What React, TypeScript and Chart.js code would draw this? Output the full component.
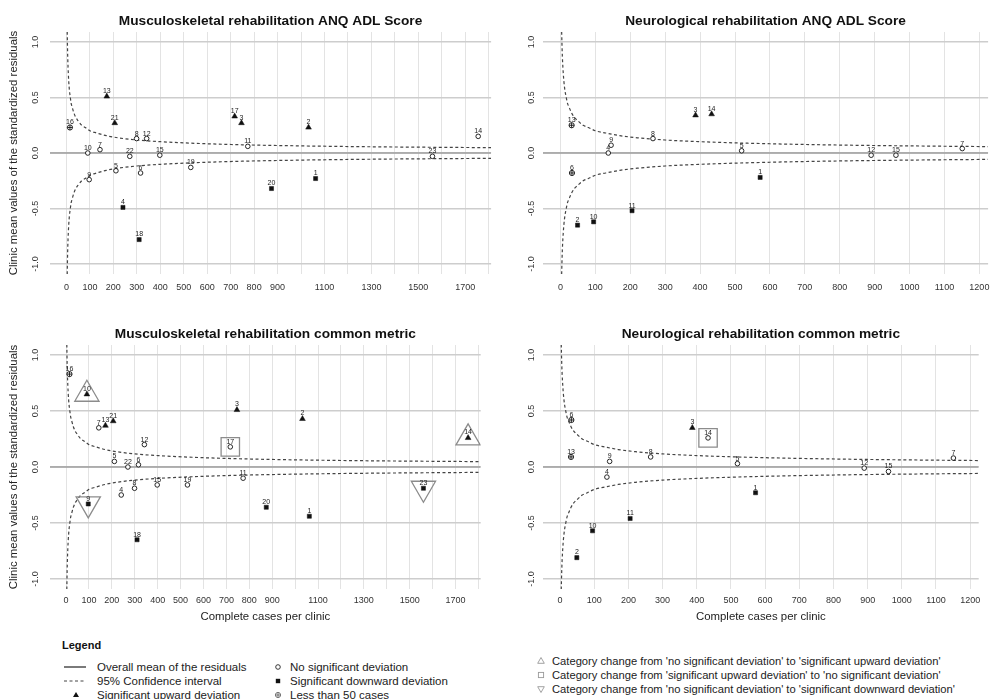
import React, { useEffect, useRef } from 'react';
import { Chart, registerables } from 'chart.js';

Chart.register(...registerables);

const FONT = '"Liberation Sans", Arial, Helvetica, sans-serif';

// ---------- data ----------
// 95% confidence band (half width) against complete cases per clinic
const ciCases = [2, 3, 4, 5, 6, 8, 10, 13, 16, 20, 25, 32, 40, 50, 65, 80, 100, 130, 170, 220, 300, 400, 550, 750, 1000, 1300, 1600, 1900];
const ciUpper = [1.44, 1.17, 1.02, 0.91, 0.83, 0.72, 0.64, 0.56, 0.51, 0.45, 0.41, 0.36, 0.32, 0.29, 0.25, 0.23, 0.2, 0.18, 0.156, 0.137, 0.117, 0.102, 0.087, 0.074, 0.064, 0.056, 0.051, 0.047];
const ciLower = [-1.44, -1.17, -1.02, -0.91, -0.83, -0.72, -0.64, -0.56, -0.51, -0.45, -0.41, -0.36, -0.32, -0.29, -0.25, -0.23, -0.2, -0.18, -0.156, -0.137, -0.117, -0.102, -0.087, -0.074, -0.064, -0.056, -0.051, -0.047];
const overallMean = 0;

// Musculoskeletal rehabilitation clinics
const mskClinics = ['16', '10', '9', '7', '13', '21', '5', '4', '22', '8', '18', '6', '12', '15', '19', '17', '3', '11', '20', '2', '1', '23', '14'];
const mskCases = [15, 91, 97, 143, 172, 206, 211, 241, 270, 299, 310, 316, 342, 398, 530, 717, 746, 773, 874, 1032, 1062, 1560, 1755];
const mskAdlValues = [0.23, 0.0, -0.24, 0.03, 0.51, 0.27, -0.16, -0.49, -0.03, 0.13, -0.78, -0.18, 0.13, -0.02, -0.13, 0.33, 0.27, 0.06, -0.32, 0.23, -0.23, -0.03, 0.15];
const mskAdlGroups = ['lt50', 'none', 'none', 'none', 'up', 'up', 'none', 'down', 'none', 'none', 'down', 'none', 'none', 'none', 'none', 'up', 'up', 'none', 'down', 'up', 'down', 'none', 'none'];
const mskCmValues = [0.83, 0.65, -0.33, 0.35, 0.37, 0.41, 0.05, -0.25, 0.0, -0.19, -0.65, 0.02, 0.2, -0.16, -0.16, 0.18, 0.51, -0.1, -0.36, 0.43, -0.44, -0.19, 0.26];
const mskCmGroups = ['lt50', 'up', 'down', 'none', 'up', 'up', 'none', 'none', 'none', 'none', 'down', 'none', 'none', 'none', 'none', 'none', 'up', 'none', 'down', 'up', 'down', 'down', 'up'];
const mskCmChanges = ['', 'toUp', 'toDown', '', '', '', '', '', '', '', '', '', '', '', '', 'toNone', '', '', '', '', '', 'toDown', 'toUp'];

// Neurological rehabilitation clinics
const neuClinics = ['13', '6', '2', '10', '4', '9', '11', '8', '3', '14', '5', '1', '12', '15', '7'];
const neuCases = [32, 33, 49, 95, 137, 145, 205, 265, 387, 433, 519, 572, 890, 961, 1151];
const neuAdlValues = [0.25, -0.18, -0.65, -0.62, 0.0, 0.07, -0.52, 0.13, 0.34, 0.35, 0.02, -0.22, -0.02, -0.02, 0.04];
const neuAdlGroups = ['lt50', 'lt50', 'down', 'down', 'none', 'none', 'down', 'none', 'up', 'up', 'none', 'down', 'none', 'none', 'none'];
const neuCmValues = [0.09, 0.42, -0.81, -0.57, -0.09, 0.05, -0.46, 0.09, 0.35, 0.26, 0.03, -0.23, -0.01, -0.04, 0.08];
const neuCmGroups = ['lt50', 'lt50', 'down', 'down', 'none', 'none', 'down', 'none', 'up', 'none', 'none', 'down', 'none', 'none', 'none'];
const neuCmChanges = ['', '', '', '', '', '', '', '', '', 'toNone', '', '', '', '', ''];

// axes
const mskXRange = [-70, 1810];
const neuXRange = [-50, 1225];
const yRange = [-1.09, 1.09];
const mskXLabels = [0, 100, 200, 300, 400, 500, 600, 700, 800, 900, 1100, 1300, 1500, 1700];
const neuXLabels = [0, 100, 200, 300, 400, 500, 600, 700, 800, 900, 1000, 1100, 1200];

const titles = [
  'Musculoskeletal rehabilitation ANQ ADL Score',
  'Neurological rehabilitation ANQ ADL Score',
  'Musculoskeletal rehabilitation common metric',
  'Neurological rehabilitation common metric',
];
const yAxisTitle = 'Clinic mean values of the standardized residuals';
const xAxisTitle = 'Complete cases per clinic';

// ---------- plugins ----------
const pointLabelPlugin = {
  id: 'pointLabels',
  afterDatasetsDraw(chart: any) {
    const { ctx } = chart;
    ctx.save();
    ctx.font = `7px ${FONT}`;
    ctx.fillStyle = '#222';
    ctx.textAlign = 'center';
    ctx.textBaseline = 'alphabetic';
    chart.data.datasets.forEach((ds: any, i: number) => {
      if (!ds.pointLabels) return;
      const meta = chart.getDatasetMeta(i);
      meta.data.forEach((el: any, j: number) => {
        ctx.fillText(ds.pointLabels[j], el.x, el.y - (ds.labelGap || 3));
      });
    });
    ctx.restore();
  },
};

const panelTextPlugin = {
  id: 'panelText',
  afterDraw(chart: any, _args: any, opts: any) {
    const { ctx, chartArea } = chart;
    ctx.save();
    ctx.fillStyle = '#111';
    ctx.textAlign = 'center';
    ctx.textBaseline = 'middle';
    const cx = (chartArea.left + chartArea.right) / 2;
    if (opts.title) {
      ctx.font = `bold 13.7px ${FONT}`;
      ctx.fillText(opts.title, cx, opts.titleY);
    }
    ctx.fillStyle = '#222';
    if (opts.xTitle) {
      ctx.font = `11.4px ${FONT}`;
      ctx.fillText(opts.xTitle, cx, opts.xTitleY);
    }
    if (opts.yTitle) {
      ctx.font = `11.4px ${FONT}`;
      ctx.translate(opts.yTitleX, (chartArea.top + chartArea.bottom) / 2);
      ctx.rotate(-Math.PI / 2);
      ctx.fillText(opts.yTitle, 0, 0);
    }
    ctx.restore();
  },
};

// ---------- chart config ----------
function makeConfig(p: any) {
  const pick = (group: string) => {
    const d: any[] = [];
    const l: string[] = [];
    p.cases.forEach((n: number, i: number) => {
      if (p.groups[i] === group) {
        d.push({ x: n, y: p.values[i] });
        l.push(p.clinics[i]);
      }
    });
    return { d, l };
  };
  const pickChange = (c: string) => {
    const d: any[] = [];
    if (p.changes) {
      p.cases.forEach((n: number, i: number) => {
        if (p.changes[i] === c) d.push({ x: n, y: p.values[i] });
      });
    }
    return d;
  };
  const none = pick('none');
  const up = pick('up');
  const down = pick('down');
  const lt50 = pick('lt50');
  const ink = '#111';
  const hl = '#8c8c8c';

  const datasets: any[] = [
    { data: up.d, pointLabels: up.l, labelGap: 3.5, pointStyle: 'triangle', pointRadius: 3.3, backgroundColor: ink, borderColor: ink, pointBorderWidth: 0.5 },
    { data: down.d, pointLabels: down.l, labelGap: 3.2, pointStyle: 'rect', pointRadius: 2.9, backgroundColor: ink, borderColor: ink, pointBorderWidth: 0.5 },
    { data: none.d, pointLabels: none.l, labelGap: 3, pointStyle: 'circle', pointRadius: 2.3, backgroundColor: '#fff', borderColor: ink, pointBorderWidth: 0.9 },
    { data: lt50.d, pointStyle: 'cross', pointRadius: 2.6, borderColor: ink, pointBorderWidth: 0.9 },
    { data: lt50.d, pointLabels: lt50.l, labelGap: 3.2, pointStyle: 'circle', pointRadius: 2.6, backgroundColor: '#fff', borderColor: ink, pointBorderWidth: 0.9 },
    { data: pickChange('toUp'), pointStyle: 'triangle', pointRadius: 14, backgroundColor: 'rgba(0,0,0,0)', borderColor: hl, pointBorderWidth: 1.3 },
    { data: pickChange('toNone'), pointStyle: 'rect', pointRadius: 13, backgroundColor: 'rgba(0,0,0,0)', borderColor: hl, pointBorderWidth: 1.3 },
    { data: pickChange('toDown'), pointStyle: 'triangle', rotation: 180, pointRadius: 14, backgroundColor: 'rgba(0,0,0,0)', borderColor: hl, pointBorderWidth: 1.3 },
    { data: ciCases.map((n, i) => ({ x: n, y: ciUpper[i] })), showLine: true, pointRadius: 0, borderColor: '#444', borderWidth: 1.2, borderDash: [3, 2.5], cubicInterpolationMode: 'monotone' },
    { data: ciCases.map((n, i) => ({ x: n, y: ciLower[i] })), showLine: true, pointRadius: 0, borderColor: '#444', borderWidth: 1.2, borderDash: [3, 2.5], cubicInterpolationMode: 'monotone' },
    { data: [{ x: p.xRange[0], y: overallMean }, { x: p.xRange[1], y: overallMean }], showLine: true, pointRadius: 0, borderColor: '#a0a0a0', borderWidth: 1.4 },
  ];

  return {
    type: 'scatter',
    data: { datasets },
    plugins: [pointLabelPlugin, panelTextPlugin],
    options: {
      responsive: false,
      animation: false,
      events: [],
      layout: { padding: { top: p.padTop, right: p.padRight, left: 0, bottom: 0 } },
      plugins: {
        legend: { display: false },
        tooltip: { enabled: false },
        title: { display: false },
        panelText: { title: p.title, titleY: p.titleY, xTitle: p.xTitle, xTitleY: p.xTitleY, yTitle: p.yTitle, yTitleX: p.yTitleX },
      },
      scales: {
        x: {
          type: 'linear',
          min: p.xRange[0],
          max: p.xRange[1],
          border: { display: false },
          grid: { color: '#e3e3e3', lineWidth: 1, drawTicks: false },
          ticks: {
            stepSize: 100,
            includeBounds: false,
            autoSkip: false,
            maxRotation: 0,
            minRotation: 0,
            padding: p.xPad,
            color: '#333',
            font: { family: FONT, size: 9 },
            callback: (v: number) => (p.xLabels.includes(v) ? String(v) : ''),
          },
          afterFit: (s: any) => {
            s.height = p.xH;
            s.paddingLeft = 0;
            s.paddingRight = 0;
          },
        },
        y: {
          type: 'linear',
          min: yRange[0],
          max: yRange[1],
          border: { display: false },
          grid: { color: '#cdcdcd', lineWidth: 1.4, drawTicks: false },
          ticks: {
            stepSize: 0.5,
            includeBounds: false,
            minRotation: 90,
            maxRotation: 90,
            crossAlign: 'center',
            padding: p.yPad,
            color: '#333',
            font: { family: FONT, size: 9 },
            callback: (v: number) => Number(v).toFixed(1),
          },
          afterFit: (s: any) => {
            s.width = p.yW;
            s.paddingTop = 0;
            s.paddingBottom = 0;
          },
        },
      },
    },
  };
}

function Panel(props: any) {
  const ref = useRef<HTMLCanvasElement | null>(null);
  useEffect(() => {
    const chart = new Chart(ref.current as HTMLCanvasElement, makeConfig(props.spec) as any);
    return () => chart.destroy();
  }, []);
  return (
    <canvas
      ref={ref}
      width={props.w}
      height={props.h}
      style={{ position: 'absolute', left: props.x, top: props.y, width: props.w, height: props.h }}
    />
  );
}

const topCommon = { padTop: 32, xH: 26, xPad: 8, titleY: 21 };
const botCommon = { padTop: 45, xH: 41, xPad: 6, titleY: 34, xTitle: xAxisTitle, xTitleY: 317 };

const specs = [
  { ...topCommon, title: titles[0], cases: mskCases, values: mskAdlValues, groups: mskAdlGroups, clinics: mskClinics, xRange: mskXRange, xLabels: mskXLabels, padRight: 4, yW: 50, yPad: 7, yTitle: yAxisTitle, yTitleX: 14 },
  { ...topCommon, title: titles[1], cases: neuCases, values: neuAdlValues, groups: neuAdlGroups, clinics: neuClinics, xRange: neuXRange, xLabels: neuXLabels, padRight: 3, yW: 47, yPad: 4 },
  { ...botCommon, title: titles[2], cases: mskCases, values: mskCmValues, groups: mskCmGroups, clinics: mskClinics, changes: mskCmChanges, xRange: mskXRange, xLabels: mskXLabels, padRight: 4, yW: 50, yPad: 7, yTitle: yAxisTitle, yTitleX: 14 },
  { ...botCommon, title: titles[3], cases: neuCases, values: neuCmValues, groups: neuCmGroups, clinics: neuClinics, changes: neuCmChanges, xRange: neuXRange, xLabels: neuXLabels, padRight: 3, yW: 47, yPad: 4 },
];

// ---------- legend ----------
const legendLeft = [
  { icon: 'line', text: 'Overall mean of the residuals' },
  { icon: 'dash', text: '95% Confidence interval' },
  { icon: 'tri', text: 'Significant upward deviation' },
];
const legendMid = [
  { icon: 'circle', text: 'No significant deviation' },
  { icon: 'square', text: 'Significant downward deviation' },
  { icon: 'plus', text: 'Less than 50 cases' },
];
const legendRight = [
  { icon: 'otri', text: "Category change from 'no significant deviation' to 'significant upward deviation'" },
  { icon: 'osq', text: "Category change from 'significant upward deviation' to 'no significant deviation'" },
  { icon: 'odtri', text: "Category change from 'no significant deviation' to 'significant downward deviation'" },
];

function Icon({ kind }: { kind: string }) {
  const w = 24;
  const c = 12;
  let el: any = null;
  if (kind === 'line') el = <line x1={0} y1={6} x2={22} y2={6} stroke="#222" strokeWidth={1.2} />;
  if (kind === 'dash') el = <line x1={0} y1={6} x2={22} y2={6} stroke="#444" strokeWidth={1} strokeDasharray="3 2.5" />;
  if (kind === 'tri') el = <polygon points={`${c},3 ${c + 3},8 ${c - 3},8`} fill="#111" />;
  if (kind === 'circle') el = <circle cx={c} cy={6} r={2.3} fill="#fff" stroke="#222" strokeWidth={0.9} />;
  if (kind === 'square') el = <rect x={c - 2.2} y={3.8} width={4.4} height={4.4} fill="#111" />;
  if (kind === 'plus') el = (
    <g stroke="#555" strokeWidth={0.8} fill="#fff">
      <circle cx={c} cy={6} r={2.6} />
      <line x1={c - 2.6} y1={6} x2={c + 2.6} y2={6} />
      <line x1={c} y1={3.4} x2={c} y2={8.6} />
    </g>
  );
  if (kind === 'otri') el = <polygon points={`${c},2.5 ${c + 3.3},8.3 ${c - 3.3},8.3`} fill="none" stroke="#999" strokeWidth={0.9} />;
  if (kind === 'osq') el = <rect x={c - 2.6} y={3.4} width={5.2} height={5.2} fill="none" stroke="#999" strokeWidth={0.9} />;
  if (kind === 'odtri') el = <polygon points={`${c},9.5 ${c + 3.3},3.7 ${c - 3.3},3.7`} fill="none" stroke="#999" strokeWidth={0.9} />;
  return (
    <svg width={w} height={12} style={{ position: 'absolute', left: 0, top: 0 }}>
      {el}
    </svg>
  );
}

function LegendRow({ x, y, item, textDx, size }: any) {
  return (
    <div style={{ position: 'absolute', left: x, top: y - 6, height: 12, width: 600 }}>
      <Icon kind={item.icon} />
      <span style={{ position: 'absolute', left: textDx, top: 0, lineHeight: '12px', fontSize: size, color: '#222', whiteSpace: 'nowrap' }}>{item.text}</span>
    </div>
  );
}

export default function App() {
  return (
    <div style={{ position: 'absolute', left: 0, top: 0, width: 993, height: 699, background: '#fff', fontFamily: FONT, overflow: 'hidden' }}>
      <Panel x={0} y={0} w={496} h={300} spec={specs[0]} />
      <Panel x={496} y={0} w={497} h={300} spec={specs[1]} />
      <Panel x={0} y={300} w={496} h={330} spec={specs[2]} />
      <Panel x={496} y={300} w={497} h={330} spec={specs[3]} />
      <div style={{ position: 'absolute', left: 62, top: 638, fontSize: 11, fontWeight: 'bold', color: '#111', lineHeight: '14px' }}>Legend</div>
      {legendLeft.map((it, i) => (
        <LegendRow key={'l' + i} x={64} y={667 + i * 14} item={it} textDx={33} size={11.5} />
      ))}
      {legendMid.map((it, i) => (
        <LegendRow key={'m' + i} x={266} y={667 + i * 14} item={it} textDx={24} size={11.5} />
      ))}
      {legendRight.map((it, i) => (
        <LegendRow key={'r' + i} x={529} y={661 + i * 14} item={it} textDx={23} size={11.2} />
      ))}
    </div>
  );
}
